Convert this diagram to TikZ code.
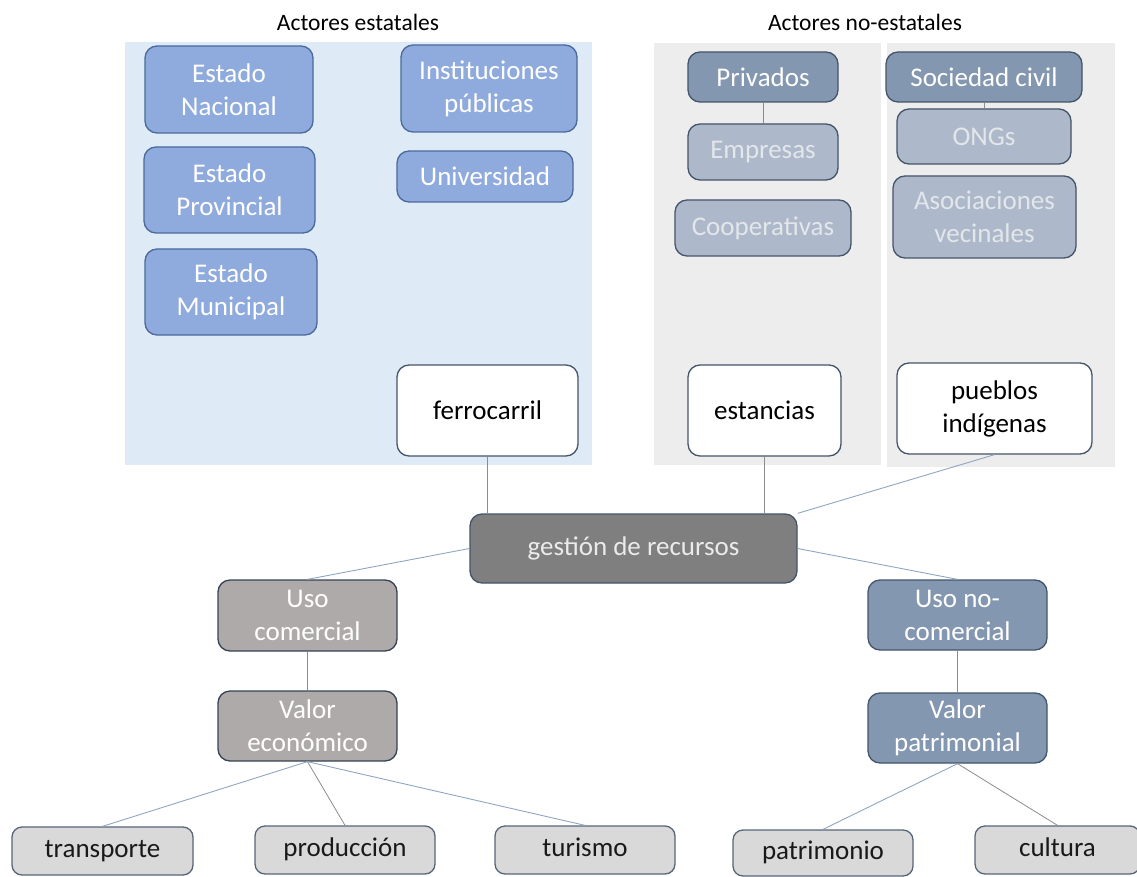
\documentclass[tikz,border=0pt]{standalone}
\usepackage{fontspec}
\setmainfont{Carlito}
\usepackage{tikz}
\usepackage{xcolor}

\definecolor{panelblue}{HTML}{DEEBF7}
\definecolor{panelgray}{HTML}{EDEDED}
\definecolor{estadofill}{HTML}{8FAADC}
\definecolor{estadoline}{HTML}{4A6A9C}
\definecolor{slatefill}{HTML}{8497B0}
\definecolor{slateline}{HTML}{44546A}
\definecolor{palefill}{HTML}{ADB9CA}
\definecolor{paletext}{HTML}{E3E6EA}
\definecolor{darkfill}{HTML}{7F7F7F}
\definecolor{warmfill}{HTML}{AEAAAA}
\definecolor{lightfill}{HTML}{D9D9D9}
\definecolor{linkblue}{HTML}{8FA6C2}
\definecolor{linkgray}{HTML}{8C8C8C}

\begin{document}
\begin{tikzpicture}[x=1pt,y=-1pt,
  box/.style={rounded corners=12pt,line width=1.3pt,align=center,inner sep=0pt,
    font=\fontsize{27}{33}\selectfont},
  estado/.style={box,fill=estadofill,draw=estadoline,text=white},
  cabeza/.style={box,fill=slatefill,draw=slateline,text=white},
  sub/.style={box,fill=palefill,draw=slateline,text=paletext},
  actor/.style={box,fill=white,draw=slateline,text=black},
  centro/.style={box,fill=darkfill,draw=slateline,text=white!92!black},
  comercial/.style={box,fill=warmfill,draw=slateline!80!black,text=white},
  nocomercial/.style={box,fill=slatefill,draw=slateline,text=white},
  hoja/.style={box,rounded corners=10pt,fill=lightfill,draw=slateline!90,text=black!90,
    text height=18pt,text depth=5pt},
  titulo/.style={font=\fontsize{23.5}{28}\selectfont,inner sep=0pt},
  link/.style={draw=linkblue,line width=0.9pt},
  stem/.style={draw=linkgray,line width=0.8pt}]
\useasboundingbox (0,0) rectangle (1137,877);

% paneles
\fill[panelblue] (125,42) rectangle (592,465);
\fill[panelgray] (654,43) rectangle (881,465);
\fill[panelgray] (887,43) rectangle (1115,467);
\node[titulo] (tEst) at (358,22) {Actores estatales};
\node[titulo] (tNoEst) at (865,22) {Actores no-estatales};

% actores estatales
\node[estado,minimum width=168pt,minimum height=87pt] (nacional) at (229,89.5) {Estado\\Nacional};
\node[estado,minimum width=171pt,minimum height=86pt] (provincial) at (229.5,190) {Estado\\Provincial};
\node[estado,minimum width=172pt,minimum height=86pt] (municipal) at (231,292) {Estado\\Municipal};
\node[estado,minimum width=176pt,minimum height=87pt] (instituciones) at (489,88.5) {Instituciones\\públicas};
\node[estado,minimum width=176pt,minimum height=51pt] (universidad) at (485,176.5) {Universidad};
\node[actor,minimum width=181pt,minimum height=91pt] (ferrocarril) at (487.5,410.5) {ferrocarril};

% actores no-estatales
\node[cabeza,minimum width=150pt,minimum height=50pt] (privados) at (763,77) {Privados};
\node[sub,minimum width=150pt,minimum height=56pt] (empresas) at (763,152) {Empresas};
\node[sub,minimum width=176pt,minimum height=56pt] (cooperativas) at (763,228) {Cooperativas};
\node[cabeza,minimum width=196pt,minimum height=50pt] (sociedad) at (984,77) {Sociedad civil};
\node[sub,minimum width=174pt,minimum height=55pt] (ongs) at (984,136.5) {ONGs};
\node[sub,minimum width=183pt,minimum height=82pt] (asociaciones) at (984.5,217) {Asociaciones\\vecinales};
\node[actor,minimum width=153pt,minimum height=91pt] (estancias) at (764.5,410.5) {estancias};
\node[actor,minimum width=195pt,minimum height=91pt] (pueblos) at (994.5,408.5) {pueblos\\indígenas};

% gestion y usos
\node[centro,minimum width=327pt,minimum height=69pt] (gestion) at (633.5,548.5) {gestión de recursos};
\node[comercial,minimum width=179pt,minimum height=71pt] (usoCom) at (307.5,615.5) {Uso\\comercial};
\node[comercial,minimum width=179pt,minimum height=70pt] (valorEco) at (307.5,726) {Valor\\económico};
\node[nocomercial,minimum width=179pt,minimum height=70pt] (usoNoCom) at (957.5,615) {Uso no-\\comercial};
\node[nocomercial,minimum width=179pt,minimum height=70pt] (valorPat) at (957.5,728) {Valor\\patrimonial};

\node[hoja,minimum width=181pt,minimum height=48pt] (transporte) at (102.5,851) {transporte};
\node[hoja,minimum width=180pt,minimum height=48pt] (produccion) at (345,850) {producción};
\node[hoja,minimum width=180pt,minimum height=48pt] (turismo) at (585,850) {turismo};
\node[hoja,minimum width=180pt,minimum height=46pt] (patrimonio) at (823,853) {patrimonio};
\node[hoja,minimum width=165pt,minimum height=48pt] (cultura) at (1057.5,850) {cultura};

% conexiones
\draw[stem] (privados) -- (empresas);
\draw[stem] (sociedad) -- (ongs);
\draw[stem] (ferrocarril) -- (ferrocarril |- gestion.north);
\draw[stem] (estancias) -- (estancias |- gestion.north);
\draw[link] (pueblos.south) -- (gestion.north east);
\draw[link] (gestion.west) -- (usoCom.north);
\draw[link] (gestion.east) -- (usoNoCom.north);
\draw[stem] (usoCom) -- (valorEco);
\draw[stem] (usoNoCom) -- (valorPat);
\draw[link] (valorEco.south) -- (transporte.north);
\draw[stem] (valorEco.south) -- (produccion.north);
\draw[link] (valorEco.south) -- (turismo.north);
\draw[link] (valorPat.south) -- (patrimonio.north);
\draw[stem] (valorPat.south) -- (cultura.north);
\end{tikzpicture}
\end{document}
